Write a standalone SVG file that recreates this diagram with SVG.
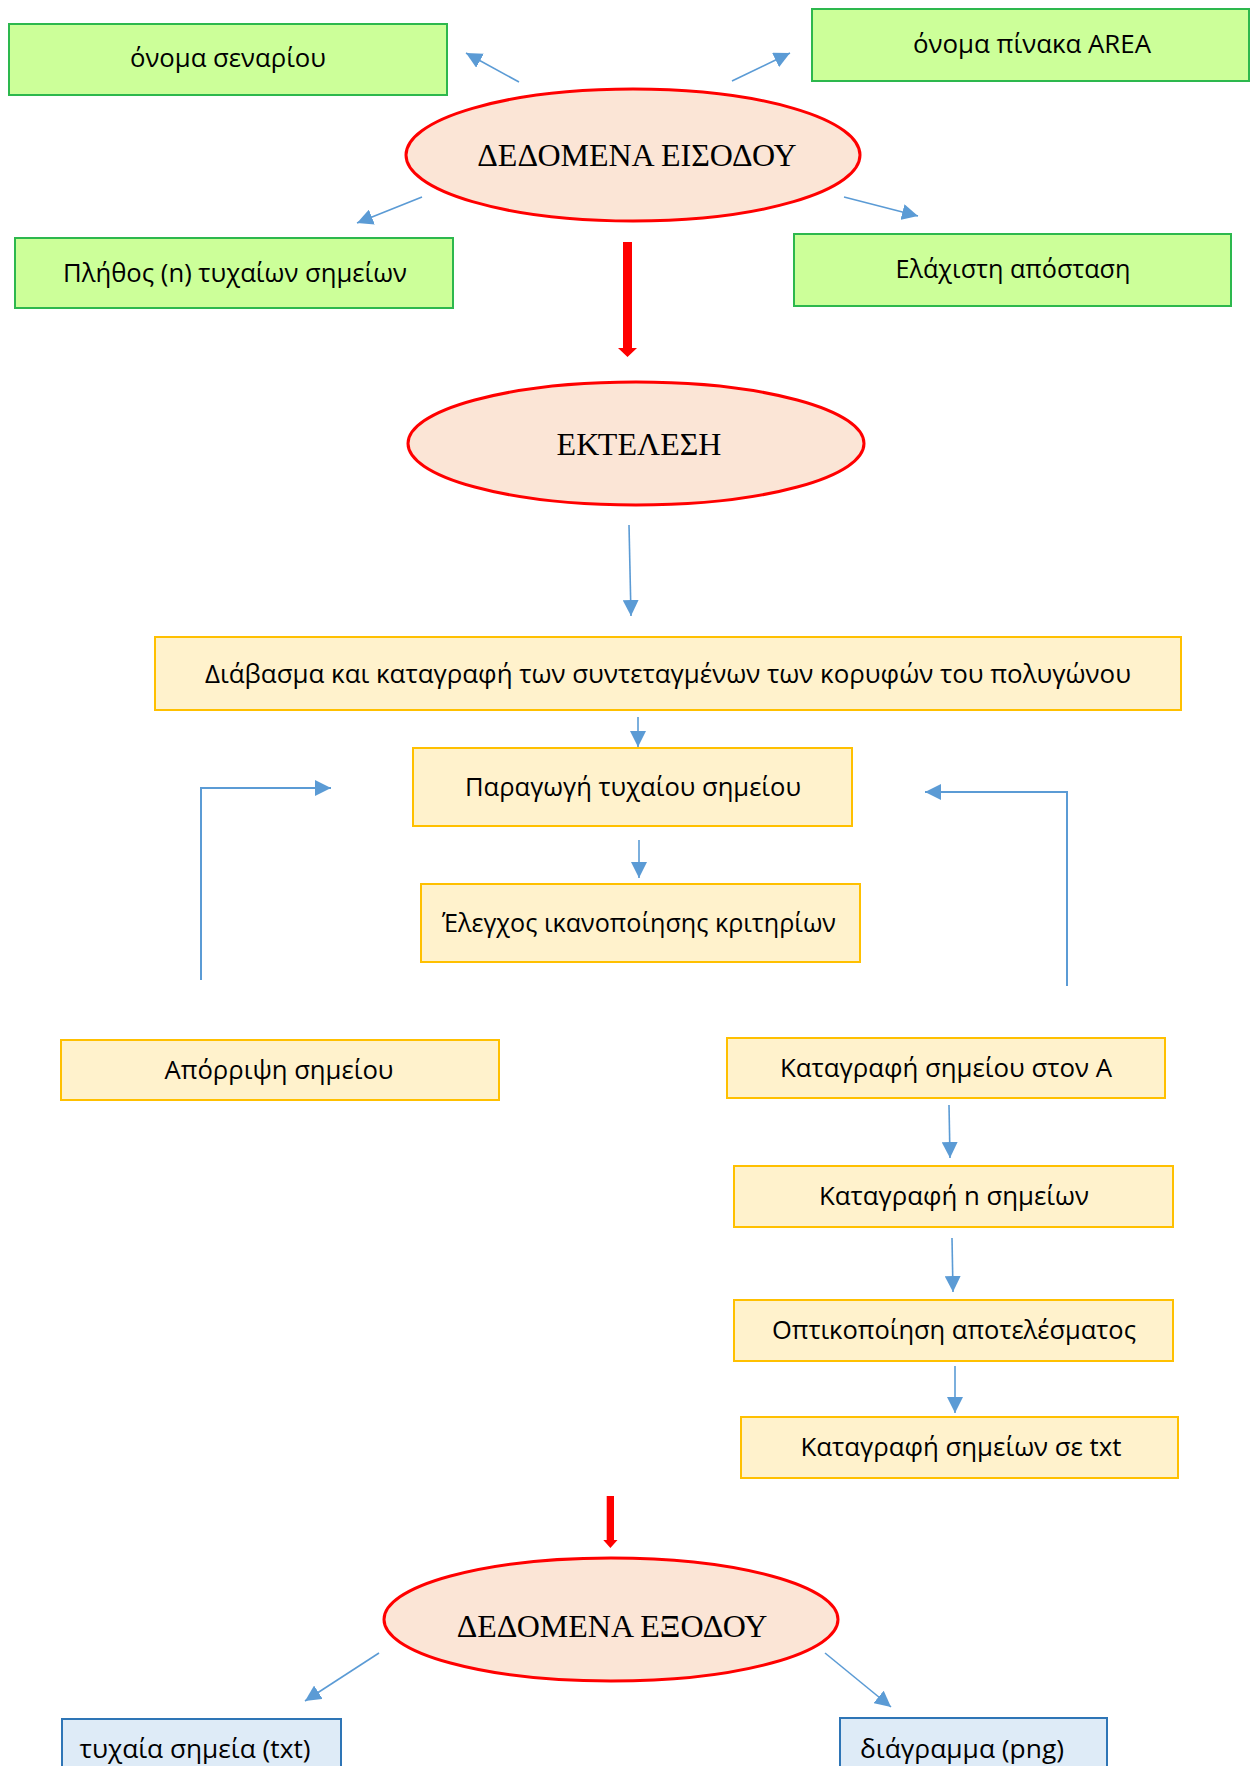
<svg xmlns="http://www.w3.org/2000/svg" width="1250" height="1766" viewBox="0 0 1250 1766">
  <style>
    .green { fill: #CCFF99; stroke: #2DB84D; stroke-width: 2; }
    .yellow { fill: #FFF2CC; stroke: #FFC000; stroke-width: 2; }
    .blue { fill: #DEEBF7; stroke: #2E75B6; stroke-width: 2; }
    .oval { fill: #FBE5D6; stroke: #FF0000; stroke-width: 3; }
    .lbl { font-family: "Open Sans", "Liberation Sans", sans-serif; font-size: 25px; fill: #000; text-anchor: middle; }
    .title { font-family: "Liberation Serif", "Times New Roman", serif; font-size: 32px; fill: #000; text-anchor: middle; }
    .conn { stroke: #5B9BD5; stroke-width: 1.6; fill: none; marker-end: url(#tri); }
    .loop { stroke: #5B9BD5; stroke-width: 2; fill: none; marker-end: url(#tri); }
    .red { fill: #FF0000; }
  </style>
  <defs>
    <marker id="tri" viewBox="0 0 10 10" refX="10" refY="5" markerUnits="userSpaceOnUse" markerWidth="16" markerHeight="16" orient="auto">
      <path d="M0,0 L10,5 L0,10 z" fill="#5B9BD5"/>
    </marker>
  </defs>
  <rect width="1250" height="1766" fill="#FFFFFF"/>

  <!-- inputs -->
  <g id="scenario-name">
    <rect class="green" x="9" y="24" width="438" height="71"/>
    <text class="lbl" x="228" y="67" textLength="196" lengthAdjust="spacingAndGlyphs">όνομα σεναρίου</text>
  </g>
  <g id="table-name">
    <rect class="green" x="812" y="9" width="437" height="72"/>
    <text class="lbl" x="1032" y="53" textLength="238" lengthAdjust="spacingAndGlyphs">όνομα πίνακα AREA</text>
  </g>
  <g id="input-data">
    <ellipse class="oval" cx="633" cy="155" rx="227" ry="66"/>
    <text class="title" x="637" y="166">ΔΕΔΟΜΕΝΑ ΕΙΣΟΔΟΥ</text>
  </g>
  <g id="point-count">
    <rect class="green" x="15" y="238" width="438" height="70"/>
    <text class="lbl" x="235" y="282" textLength="344" lengthAdjust="spacingAndGlyphs">Πλήθος (n) τυχαίων σημείων</text>
  </g>
  <g id="min-distance">
    <rect class="green" x="794" y="234" width="437" height="72"/>
    <text class="lbl" x="1013" y="278" textLength="235" lengthAdjust="spacingAndGlyphs">Ελάχιστη απόσταση</text>
  </g>

  <!-- execution -->
  <g id="execution">
    <ellipse class="oval" cx="636" cy="443.5" rx="228" ry="61.5"/>
    <text class="title" x="639" y="455">ΕΚΤΕΛΕΣΗ</text>
  </g>
  <g id="read-vertices">
    <rect class="yellow" x="155" y="637" width="1026" height="73"/>
    <text class="lbl" x="668" y="683" textLength="926" lengthAdjust="spacingAndGlyphs">Διάβασμα και καταγραφή των συντεταγμένων  των κορυφών του πολυγώνου</text>
  </g>
  <g id="random-point">
    <rect class="yellow" x="413" y="748" width="439" height="78"/>
    <text class="lbl" x="633" y="796" textLength="336" lengthAdjust="spacingAndGlyphs">Παραγωγή τυχαίου σημείου</text>
  </g>
  <g id="criteria-check">
    <rect class="yellow" x="421" y="884" width="439" height="78"/>
    <text class="lbl" x="639" y="932" textLength="394" lengthAdjust="spacingAndGlyphs">Έλεγχος ικανοποίησης κριτηρίων</text>
  </g>
  <g id="reject-point">
    <rect class="yellow" x="61" y="1040" width="438" height="60"/>
    <text class="lbl" x="279" y="1079" textLength="229" lengthAdjust="spacingAndGlyphs">Απόρριψη σημείου</text>
  </g>
  <g id="store-point">
    <rect class="yellow" x="727" y="1038" width="438" height="60"/>
    <text class="lbl" x="946" y="1077" textLength="332" lengthAdjust="spacingAndGlyphs">Καταγραφή σημείου στον Α</text>
  </g>
  <g id="store-n-points">
    <rect class="yellow" x="734" y="1166" width="439" height="61"/>
    <text class="lbl" x="954" y="1205" textLength="270" lengthAdjust="spacingAndGlyphs">Καταγραφή n σημείων</text>
  </g>
  <g id="visualise">
    <rect class="yellow" x="734" y="1300" width="439" height="61"/>
    <text class="lbl" x="954" y="1339" textLength="364" lengthAdjust="spacingAndGlyphs">Οπτικοποίηση αποτελέσματος</text>
  </g>
  <g id="write-txt">
    <rect class="yellow" x="741" y="1417" width="437" height="61"/>
    <text class="lbl" x="961" y="1456" textLength="321" lengthAdjust="spacingAndGlyphs">Καταγραφή σημείων σε txt</text>
  </g>

  <!-- outputs -->
  <g id="output-data">
    <ellipse class="oval" cx="611" cy="1619.5" rx="227" ry="61.5"/>
    <text class="title" x="612" y="1637">ΔΕΔΟΜΕΝΑ ΕΞΟΔΟΥ</text>
  </g>
  <g id="points-txt">
    <rect class="blue" x="62" y="1719" width="279" height="70"/>
    <text class="lbl" x="195" y="1758" textLength="231" lengthAdjust="spacingAndGlyphs">τυχαία σημεία (txt)</text>
  </g>
  <g id="chart-png">
    <rect class="blue" x="840" y="1718" width="267" height="70"/>
    <text class="lbl" x="962" y="1758" textLength="204" lengthAdjust="spacingAndGlyphs">διάγραμμα (png)</text>
  </g>

  <!-- connectors -->
  <g id="connectors">
    <line class="conn" x1="519" y1="82" x2="466" y2="53"/>
    <line class="conn" x1="732" y1="81" x2="790" y2="53"/>
    <line class="conn" x1="422" y1="197" x2="357" y2="223"/>
    <line class="conn" x1="844" y1="197" x2="918" y2="216"/>
    <path class="red" d="M623,242 H632 V348 H637 L627.5,357 L618,348 H623 Z"/>
    <line class="conn" x1="629" y1="525" x2="631" y2="616"/>
    <line class="conn" x1="638" y1="717" x2="638" y2="747"/>
    <line class="conn" x1="639" y1="840" x2="639" y2="878"/>
    <polyline class="loop" points="201,980 201,788 331,788"/>
    <polyline class="loop" points="1067,986 1067,792 925,792"/>
    <line class="conn" x1="949" y1="1105" x2="950" y2="1158"/>
    <line class="conn" x1="952" y1="1238" x2="953" y2="1292"/>
    <line class="conn" x1="955" y1="1366" x2="955" y2="1413"/>
    <path class="red" d="M606.7,1496 H614 V1540 H617.5 L610.4,1548 L603.3,1540 H606.7 Z"/>
    <line class="conn" x1="379" y1="1653" x2="305" y2="1701"/>
    <line class="conn" x1="825" y1="1653" x2="891" y2="1707"/>
  </g>
</svg>
